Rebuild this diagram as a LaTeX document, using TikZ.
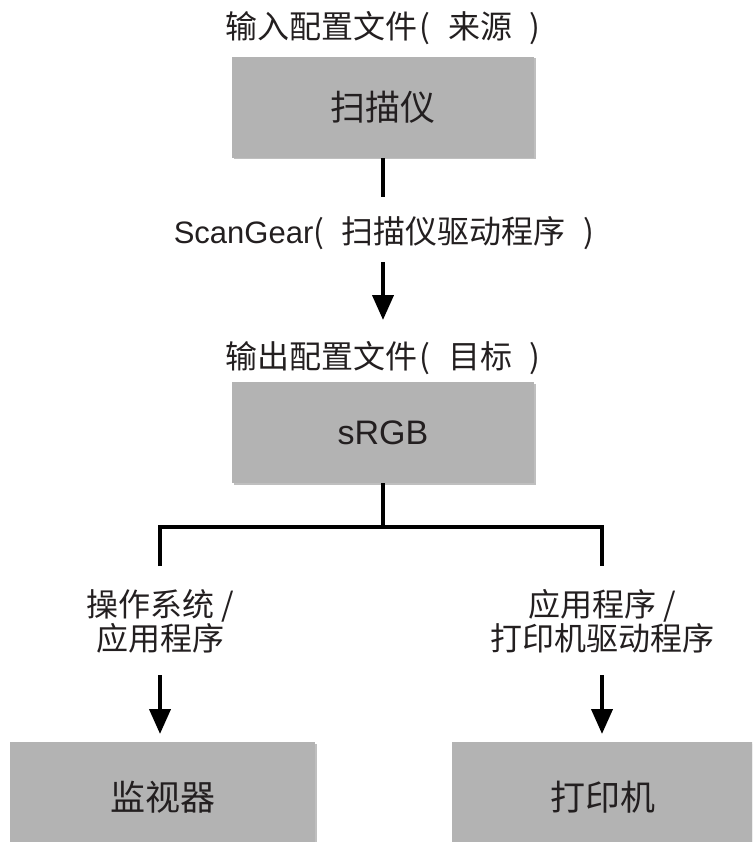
\documentclass[tikz,border=0pt]{standalone}
\usepackage{fontspec}
\newfontfamily\cjk{Noto Sans CJK SC}
\newfontfamily\lat{Liberation Sans}
\usetikzlibrary{arrows.meta,shadows}
\definecolor{boxgray}{HTML}{B3B3B3}
\definecolor{ink}{HTML}{231F20}
\newcommand{\lp}{\hspace{0.08em}(\hspace{0.55em}}
\newcommand{\rp}{\hspace{0.55em})}
\tikzset{
  box/.style={fill=boxgray, inner sep=0pt, text=ink, font=\cjk\fontsize{35}{40}\selectfont,
    drop shadow={shadow xshift=1.5pt, shadow yshift=-1.5pt, fill=black, opacity=0.25}},
  lbl/.style={text=ink, font=\cjk\fontsize{32}{32}\selectfont, inner sep=0pt, align=center},
  conn/.style={line width=4pt, draw=black},
  arr/.style={line width=4pt, draw=black, -{Triangle[length=25pt,width=21pt]}}
}
\begin{document}
\begin{tikzpicture}[x=1pt,y=-1pt]
\useasboundingbox (0,0) rectangle (752,842);
\clip (0,0) rectangle (752,842);
% titles
\node[lbl] (intitle) at (383,28) {输入配置文件\lp 来源\rp};
\node[box, minimum width=302pt, minimum height=101pt] (scanner) at (383,107.5) {扫描仪};
\coordinate (c1) at (383,197);
\node[lbl] (sg) at (384,233) {{\lat\fontsize{31}{32}\selectfont ScanGear}(\hspace{0.55em}扫描仪驱动程序\rp};
\coordinate (c2) at (383,262);
\coordinate (c3) at (383,320);
\node[lbl] (outtitle) at (383,358) {输出配置文件\lp 目标\rp};
\node[box, minimum width=302pt, minimum height=101pt, font=\lat\fontsize{34}{38}\selectfont] (srgb) at (383,432.5) {sRGB};
% branch
\coordinate (j) at (383,527);
\coordinate (jl) at (160,527);
\coordinate (jr) at (602,527);
\coordinate (l1) at (160,566);
\coordinate (r1) at (602,566);
\node[lbl] (osl) at (160,621) {操作系统 /\\应用程序};
\node[lbl] (appl) at (602,621) {应用程序 /\\打印机驱动程序};
\coordinate (l2) at (160,675);
\coordinate (l3) at (160,734);
\coordinate (r2) at (602,675);
\coordinate (r3) at (602,734);
\node[box, minimum width=305pt, minimum height=110pt] (monitor) at (162.5,797) {监视器};
\node[box, minimum width=302pt, minimum height=110pt] (printer) at (603,797) {打印机};
% connectors
\draw[conn] (scanner.south) -- (c1);
\draw[arr] (c2) -- (c3);
\draw[conn] (srgb.south) -- (j);
\draw[conn, line join=miter] (l1) -- (jl) -- (jr) -- (r1);
\draw[arr] (l2) -- (l3);
\draw[arr] (r2) -- (r3);
\end{tikzpicture}
\end{document}
